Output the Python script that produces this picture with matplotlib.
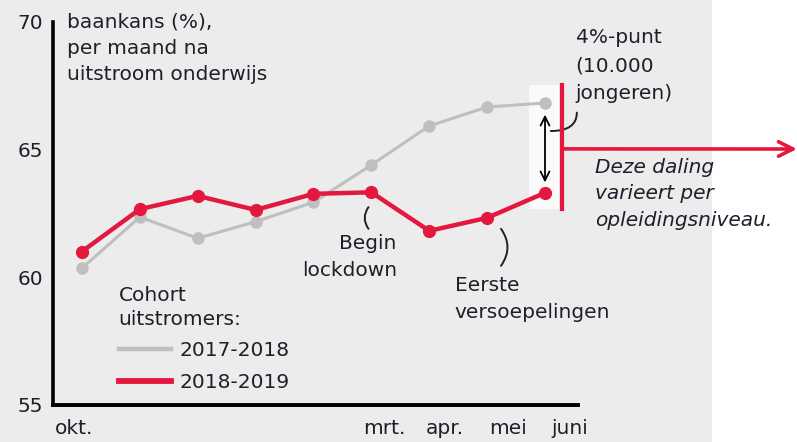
import matplotlib.pyplot as plt
import matplotlib.transforms as mtransforms
from matplotlib.patches import Rectangle
from matplotlib.lines import Line2D
import numpy as np

months = ["okt.", "nov.", "dec.", "jan.", "feb.", "mrt.", "apr.", "mei", "juni"]
shown_months = ["okt.", "mrt.", "apr.", "mei", "juni"]
cohort_2017 = [60.36, 62.36, 61.53, 62.18, 62.94, 64.40, 65.93, 66.67, 66.83]
cohort_2018 = [61.01, 62.67, 63.19, 62.64, 63.27, 63.33, 61.82, 62.33, 63.31]
yticks = [55, 60, 65, 70]

RED = "#e4173e"
GRAY = "#bfbfbf"
TXT = "#1f1f2b"
BG = "#ececec"

plt.rcParams['font.family'] = ['DejaVu Sans']
FS = 14.5

W, H = 797, 442
fig = plt.figure(figsize=(W / 100, H / 100), dpi=100)
fig.patch.set_facecolor("white")
fig.add_artist(Rectangle((0, 0), 712 / W, 1, transform=fig.transFigure,
                         facecolor=BG, edgecolor="none", zorder=0))

ax = fig.add_axes([53 / W, 1 - 405 / H, (578 - 53) / W, (405 - 22) / H])
ax.patch.set_visible(False)
x = np.arange(len(months))
ax.set_xlim(-0.5, 8.57)
ax.set_ylim(55, 70)

for s in ["top", "right"]:
    ax.spines[s].set_visible(False)
ax.spines["left"].set_linewidth(2.6)
ax.spines["bottom"].set_linewidth(2.8)

ax.set_yticks(yticks)
ax.tick_params(axis="y", length=0, pad=7, labelsize=FS, labelcolor=TXT)
idx = [months.index(m) for m in shown_months]
ax.set_xticks(idx)
ax.set_xticklabels(shown_months)
ax.tick_params(axis="x", length=0, pad=10, labelsize=FS, labelcolor=TXT)
offsets = [-8, 13, 16, 21, 25]
for lab, dx in zip(ax.get_xticklabels(), offsets):
    lab.set_transform(lab.get_transform() +
                      mtransforms.ScaledTranslation(dx / 100, 0, fig.dpi_scale_trans))

# highlight box behind the gap in juni
ax.add_patch(Rectangle((7.72, 62.68), 0.52, 4.85, facecolor="#fafafa",
                       edgecolor="none", zorder=1))

ax.plot(x, cohort_2017, color=GRAY, lw=2.2, marker="o", ms=8, zorder=3)
ax.plot(x, cohort_2018, color=RED, lw=3.2, marker="o", ms=8.5, zorder=4)

# gap arrow
ax.annotate("", xy=(8.0, cohort_2017[-1] - 0.35), xytext=(8.0, cohort_2018[-1] + 0.3),
            arrowprops=dict(arrowstyle="<->", color="black", lw=1.3,
                            mutation_scale=16), zorder=5)
ax.plot([8.29, 8.29], [62.68, 67.53], color=RED, lw=3, zorder=5, clip_on=False)
ax.annotate("", xy=(797 / W, 1 - 149 / H), xycoords="figure fraction",
            xytext=(8.29, 65.03), textcoords="data",
            arrowprops=dict(arrowstyle="->", color=RED, lw=2.6,
                            mutation_scale=26, shrinkA=0, shrinkB=0))

# connectors
ax.annotate("", xy=(8.55, 66.45), xytext=(8.1, 65.73),
            arrowprops=dict(arrowstyle="-", color=TXT, lw=1.4, shrinkA=0, shrinkB=0,
                            connectionstyle="angle3,angleA=0,angleB=90"))
ax.annotate("", xy=(4.95, 62.75), xytext=(4.95, 61.9),
            arrowprops=dict(arrowstyle="-", color=TXT, lw=1.4, shrinkA=0, shrinkB=0,
                            connectionstyle="arc3,rad=-0.35"))
ax.annotate("", xy=(7.24, 61.9), xytext=(7.24, 60.45),
            arrowprops=dict(arrowstyle="-", color=TXT, lw=1.4, shrinkA=0, shrinkB=0,
                            connectionstyle="arc3,rad=0.35"))

# texts
kw = dict(color=TXT, fontsize=FS, linespacing=1.5)
ax.text(-0.26, 70.38, "baankans (%),\nper maand na\nuitstroom onderwijs",
        va="top", ha="left", **kw)
ax.text(5.44, 61.68, "Begin\nlockdown", va="top", ha="right",
        multialignment="right", **kw)
ax.text(6.44, 60.05, "Eerste\nversoepelingen", va="top", ha="left", **kw)
ax.text(8.53, 69.75, "4%-punt\n(10.000\njongeren)", va="top", ha="left",
        color=TXT, fontsize=FS, linespacing=1.6)
ax.text(8.86, 64.68, "Deze daling\nvarieert per\nopleidingsniveau.", va="top",
        ha="left", style="italic", **kw)

handles = [Line2D([], [], color=GRAY, lw=3.2), Line2D([], [], color=RED, lw=4.2)]
leg = ax.legend(handles, ["2017-2018", "2018-2019"], loc="upper left",
                bbox_to_anchor=(0.125, 0.312), frameon=False,
                title="Cohort\nuitstromers:", alignment="left", handlelength=2.6,
                fontsize=FS, title_fontsize=FS, labelspacing=0.62,
                handletextpad=0.4, borderaxespad=0, borderpad=0)
for t in leg.get_texts():
    t.set_color(TXT)
leg.get_title().set_color(TXT)
leg.get_title().set_linespacing(1.35)

fig.savefig("out.png", dpi=100)
